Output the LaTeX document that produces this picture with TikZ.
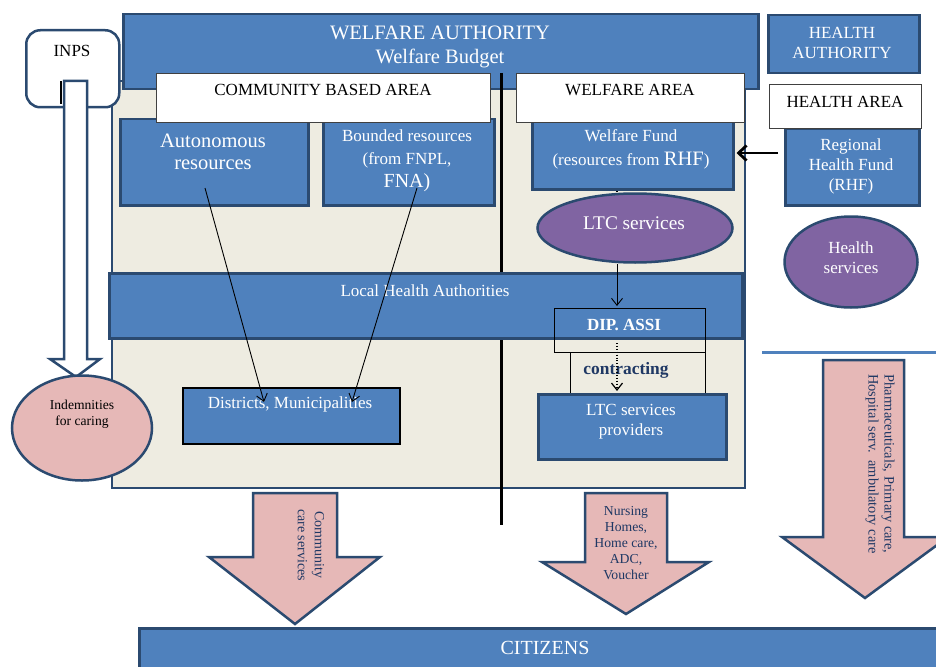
\documentclass[tikz,border=0pt]{standalone}
\usepackage{fontspec}
\setmainfont{Liberation Serif}
\usetikzlibrary{shapes.geometric,arrows.meta,calc}
\definecolor{bfill}{HTML}{4F81BD}
\definecolor{bdraw}{HTML}{2B4A70}
\definecolor{beige}{HTML}{EEECE1}
\definecolor{pinkf}{HTML}{E6B8B7}
\definecolor{purp}{HTML}{8064A2}
\definecolor{navy}{HTML}{1F3864}
\definecolor{lineblue}{HTML}{4F81BD}
\newcommand\fz[2]{\fontsize{#1}{#2}\selectfont}
\begin{document}
\begin{tikzpicture}[x=1pt,y=-1pt,
  blk/.style={draw=bdraw,line width=2.5pt,fill=bfill,inner sep=0,anchor=north west},
  wbox/.style={draw=black!75,line width=0.7pt,fill=white,inner sep=0,anchor=north west},
  tbox/.style={draw=black,line width=0.7pt,inner sep=0,anchor=north west},
  wt/.style={text=white,align=center,inner sep=0},
  bt/.style={text=black,align=center,inner sep=0},
  nt/.style={text=navy,align=center,inner sep=0},
  oval/.style={ellipse,draw=bdraw,line width=2.5pt,inner sep=0},
  pinkarrow/.style={draw=bdraw,line width=2.5pt,fill=pinkf,line join=miter},
  conn/.style={-{Straight Barb[length=7pt,width=11pt]},line width=0.9pt},
]
\clip (0,0) rectangle (936,666);
\useasboundingbox (0,0) rectangle (936,666);
\fill[white] (0,0) rectangle (936,666);

% main beige area
\node[draw=bdraw,line width=2pt,fill=beige,inner sep=0,anchor=north west,minimum width=633,minimum height=407] (area) at (111,80) {};

% authorities
\node[blk,minimum width=635,minimum height=75] (wa) at (122,13) {};
\node[wt,font=\fz{20.5}{24}] (waT) at (440,47) {WELFARE AUTHORITY\\Welfare Budget};
\node[blk,minimum width=151,minimum height=58] (ha) at (767,14) {};
\node[wt,font=\fz{17}{20}] (haT) at (842,43) {HEALTH\\AUTHORITY};

% INPS
\node[draw=bdraw,line width=2.5pt,fill=white,rounded corners=14pt,inner sep=0,anchor=north west,minimum width=93,minimum height=77] (inps) at (25,29) {};
\node[bt,font=\fz{17}{20}] (inpsT) at (72,51) {INPS};
\draw[draw=bdraw,line width=2.5pt,fill=white,line join=miter] (64,81) -- (87,81) -- (87,359) -- (100,359) -- (76,377) -- (50,359) -- (64,359) -- cycle;
\draw[black,line width=1.2pt] (61,81) -- (61,104);
\node[oval,fill=pinkf,minimum width=140,minimum height=105] (ind) at (82,428) {};
\node[bt,font=\fz{13.6}{16}] (indT) at (82,414) {Indemnities\\for caring};

% separating line
\coordinate (vtop) at (501,73);
\coordinate (vbot) at (501,525);
\draw[black,line width=3pt] (vtop) -- (vbot);

% resources
\node[blk,minimum width=188,minimum height=86] (auto) at (119,118) {};
\node[wt,font=\fz{20.5}{22}] (autoT) at (213,152) {Autonomous\\resources};
\node[blk,minimum width=171,minimum height=86] (bound) at (322,118) {};
\node[wt,font=\fz{17}{23}] (boundT) at (407,161) {Bounded resources\\(from FNPL,\\{\fz{20}{23}FNA)}};
\node[blk,minimum width=201,minimum height=70] (wf) at (531,118) {};
\node[wt,font=\fz{17}{24}] (wfT) at (631,149) {Welfare Fund\\(resources from {\fz{20.5}{24}RHF})};
\node[blk,minimum width=134,minimum height=77] (rhf) at (784,127) {};
\node[wt,font=\fz{17}{20}] (rhfT) at (851,166) {Regional\\Health Fund\\(RHF)};

% area labels
\node[wbox,minimum width=334,minimum height=49] (cba) at (156,73) {};
\node[bt,font=\fz{17}{20}] (cbaT) at (323,90) {COMMUNITY BASED AREA};
\node[wbox,minimum width=228,minimum height=49] (wla) at (516,73) {};
\node[bt,font=\fz{17}{20}] (wlaT) at (630,90) {WELFARE AREA};
\node[wbox,minimum width=152,minimum height=44] (hla) at (769,84) {};
\node[bt,font=\fz{17}{20}] (hlaT) at (845,102) {HEALTH AREA};

% services ellipses
\node[oval,fill=purp,minimum width=195,minimum height=69] (ltc) at (635,228) {};
\node[wt,font=\fz{19.3}{22}] (ltcT) at (634,223) {LTC services};
\node[oval,fill=purp,minimum width=133,minimum height=91] (hs) at (851,262) {};
\node[wt,font=\fz{17}{20}] (hsT) at (851,258) {Health\\services};

% local health authorities
\node[blk,minimum width=633,minimum height=65] (lha) at (108,272) {};
\node[wt,font=\fz{17}{20}] (lhaT) at (425,291) {Local Health Authorities};

% DIP ASSI and contracting
\node[tbox,minimum width=151,minimum height=44] (dip) at (554,308) {};
\node[wt,font=\bfseries\fz{17}{20}] (dipT) at (624,325) {DIP. ASSI};
\node[tbox,minimum width=135,minimum height=41] (ctr) at (570,352) {};

% lower boxes
\node[draw=black,line width=1.5pt,fill=bfill,inner sep=0,anchor=north west,minimum width=217,minimum height=56] (dist) at (182,387) {};
\node[wt,font=\fz{17}{20}] (distT) at (290,404) {Districts, Municipalities};
\node[blk,minimum width=188,minimum height=65] (prov) at (537,393) {};
\node[wt,font=\fz{17}{20}] (provT) at (631,422) {LTC services\\providers};
\node[nt,font=\bfseries\fz{17.4}{20}] (ctrT) at (626,370) {contracting};

% connectors
\coordinate (x617) at (617,0);
\draw[black,line width=1.2pt] (wf.south -| x617) -- (ltc.north -| x617);
\draw[conn] (ltc.south -| x617) -- ($(dip.north -| x617)+(0,-2)$);
\coordinate (dstart) at (617,343);
\draw[conn,dotted,line width=1.2pt] (dstart) -- ($(prov.north -| x617)+(0,-2)$);
\coordinate (a1) at (205,188);
\coordinate (d1) at (264,402);
\draw[conn] (a1) -- (d1);
\coordinate (b1) at (417,188);
\coordinate (d2) at (352,402);
\draw[conn] (b1) -- (d2);
\coordinate (rs) at (778,153);
\draw[black,line width=2.8pt,-{Straight Barb[length=8pt,width=15pt]}] (rs) -- ($(wf.east |- rs)+(2,0)$);

% health divider
\coordinate (hl1) at (762,352);
\coordinate (hl2) at (936,352);
\draw[lineblue,line width=3pt] (hl1) -- (hl2);

% pink block arrows
\draw[pinkarrow] (253,493) -- (337,493) -- (337,557) -- (380,557) -- (295,624) -- (209,557) -- (253,557) -- cycle;
\node[nt,rotate=-90,font=\fz{14}{17}] (commT) at (311,545) {Community\\care services};
\draw[pinkarrow] (585,493) -- (667,493) -- (667,562) -- (709,562) -- (626,614) -- (542,562) -- (585,562) -- cycle;
\node[nt,font=\fz{13.7}{16}] (nursT) at (626,543) {Nursing\\Homes,\\Home care,\\ADC,\\Voucher};
\draw[pinkarrow] (823,360) -- (904,360) -- (904,537) -- (948,537) -- (865,598) -- (782,537) -- (823,537) -- cycle;
\node[nt,rotate=-90,font=\fz{14.4}{16}] (pharT) at (880,464) {Pharmaceuticals, Primary care,\\Hospital serv.\ \ ambulatory care};

% citizens
\node[blk,minimum width=820,minimum height=50] (cit) at (138,627) {};
\node[wt,font=\fz{20}{22}] (citT) at (545,648) {CITIZENS};
\end{tikzpicture}
\end{document}
